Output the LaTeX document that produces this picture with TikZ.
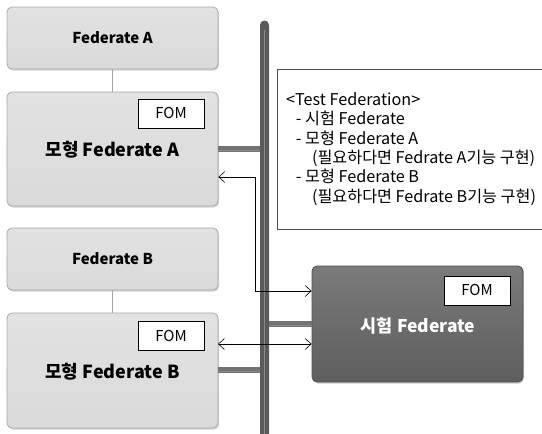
\documentclass[tikz,border=0pt]{standalone}
\usepackage{fontspec}
\setmainfont{Noto Sans CJK KR}
\usetikzlibrary{shadows,arrows.meta}

\definecolor{boxfill}{HTML}{DADADA}
\definecolor{boxtop}{HTML}{E2E2E2}
\definecolor{boxedge}{HTML}{A8A8A8}
\definecolor{darktop}{HTML}{7A7A7A}
\definecolor{darkbot}{HTML}{5E5E5E}
\definecolor{darkedge}{HTML}{505050}
\definecolor{busdark}{HTML}{5A5A5A}
\definecolor{buslight}{HTML}{8A8A8A}

\tikzset{
  fedbox/.style={draw=boxedge, line width=0.8pt, rounded corners=5pt,
    top color=boxtop, bottom color=boxfill, minimum width=211pt,
    drop shadow={opacity=0.35, shadow xshift=1pt, shadow yshift=-1.5pt}},
  testbox/.style={draw=darkedge, line width=0.8pt, rounded corners=5pt,
    top color=darktop, bottom color=darkbot, minimum width=211pt,
    minimum height=116pt,
    drop shadow={opacity=0.4, shadow xshift=1pt, shadow yshift=-1.5pt}},
  fombox/.style={draw=black, line width=0.6pt, fill=white,
    minimum width=66pt, minimum height=29pt, inner sep=0pt,
    font=\fontsize{15}{17}\selectfont},
  titletext/.style={font=\fontsize{15}{17}\selectfont\bfseries},
  bigtext/.style={font=\fontsize{18}{21}\selectfont\bfseries},
  link/.style={draw=gray!70, line width=0.6pt},
  stub/.style={line width=6pt, draw=busdark!85},
  stubhi/.style={line width=1.2pt, draw=buslight},
  msg/.style={draw=black, line width=0.6pt,
    {Straight Barb[length=6pt,width=11pt]}-{Straight Barb[length=6pt,width=11pt]}}
}

\begin{document}
\begin{tikzpicture}[x=1pt,y=-1pt]
\useasboundingbox (0,0) rectangle (542,434);

% vertical RTI bus
\fill[busdark] (260,440) -- (260,25) arc[start angle=180,end angle=0,radius=4.5pt] -- (269,440) -- cycle;
\draw[buslight, line width=1.3pt] (264.5,30) -- (264.5,440);

% federate boxes
\node[fedbox, minimum height=62pt] (fedA) at (112.5,38) {};
\node[titletext] at (fedA.center) {Federate A};
\node[fedbox, minimum height=114pt] (modA) at (112.5,149) {};
\node[bigtext] (modAlbl) at (112.5,150) {모형 Federate A};
\node[fombox] (fomA) at (171,113.5) {FOM};

\node[fedbox, minimum height=62pt] (fedB) at (112.5,259) {};
\node[titletext] at (fedB.center) {Federate B};
\node[fedbox, minimum height=115pt] (modB) at (112.5,370.5) {};
\node[bigtext] (modBlbl) at (112.5,372) {모형 Federate B};
\node[fombox] (fomB) at (171,336) {FOM};

\node[testbox] (test) at (417.5,324) {};
\node[text=white, font=\fontsize{17.5}{20}\selectfont\bfseries] (testlbl) at (418,326) {시험 Federate};
\node[fombox] (fomT) at (477,290.5) {FOM};

% links between each federate and its model
\draw[link] (fedA.south) -- (modA.north);
\draw[link] (fedB.south) -- (modB.north);

% stubs joining the bus
\coordinate (busA) at (260,149);
\coordinate (busB) at (260,370);
\coordinate (busT) at (269,324);
\draw[stub] (modA.east |- busA) -- (busA);
\draw[stubhi] ([yshift=-1.8pt]modA.east |- busA) -- ([yshift=-1.8pt]busA);
\draw[stub] (modB.east |- busB) -- (busB);
\draw[stubhi] ([yshift=-1.8pt]modB.east |- busB) -- ([yshift=-1.8pt]busB);
\draw[stub] (busT) -- (test.west |- busT);
\draw[stubhi] ([yshift=-1.8pt]busT) -- ([yshift=-1.8pt]test.west |- busT);

% message paths
\coordinate (bendA) at (255,177);
\coordinate (bendT) at (255,291);
\draw[msg] (modA.east |- bendA) -- (bendA) -- (bendT) -- (test.west |- bendT);
\coordinate (msgB) at (218,344);
\draw[msg] (msgB) -- (test.west |- msgB);

% federation description
\draw[draw=black!70, line width=0.6pt, fill=white] (277,69) rectangle (548,229);
\node[anchor=north west, align=left, inner sep=0pt,
      font=\fontsize{16.2}{19.3}\selectfont] (desc) at (286,92.5)
  {<Test Federation>\\
   \hspace*{0.6em}- 시험 Federate\\
   \hspace*{0.6em}- 모형 Federate A\\
   \hspace*{1.6em}(필요하다면 Fedrate A기능 구현)\\
   \hspace*{0.6em}- 모형 Federate B\\
   \hspace*{1.6em}(필요하다면 Fedrate B기능 구현)};
\end{tikzpicture}
\end{document}
